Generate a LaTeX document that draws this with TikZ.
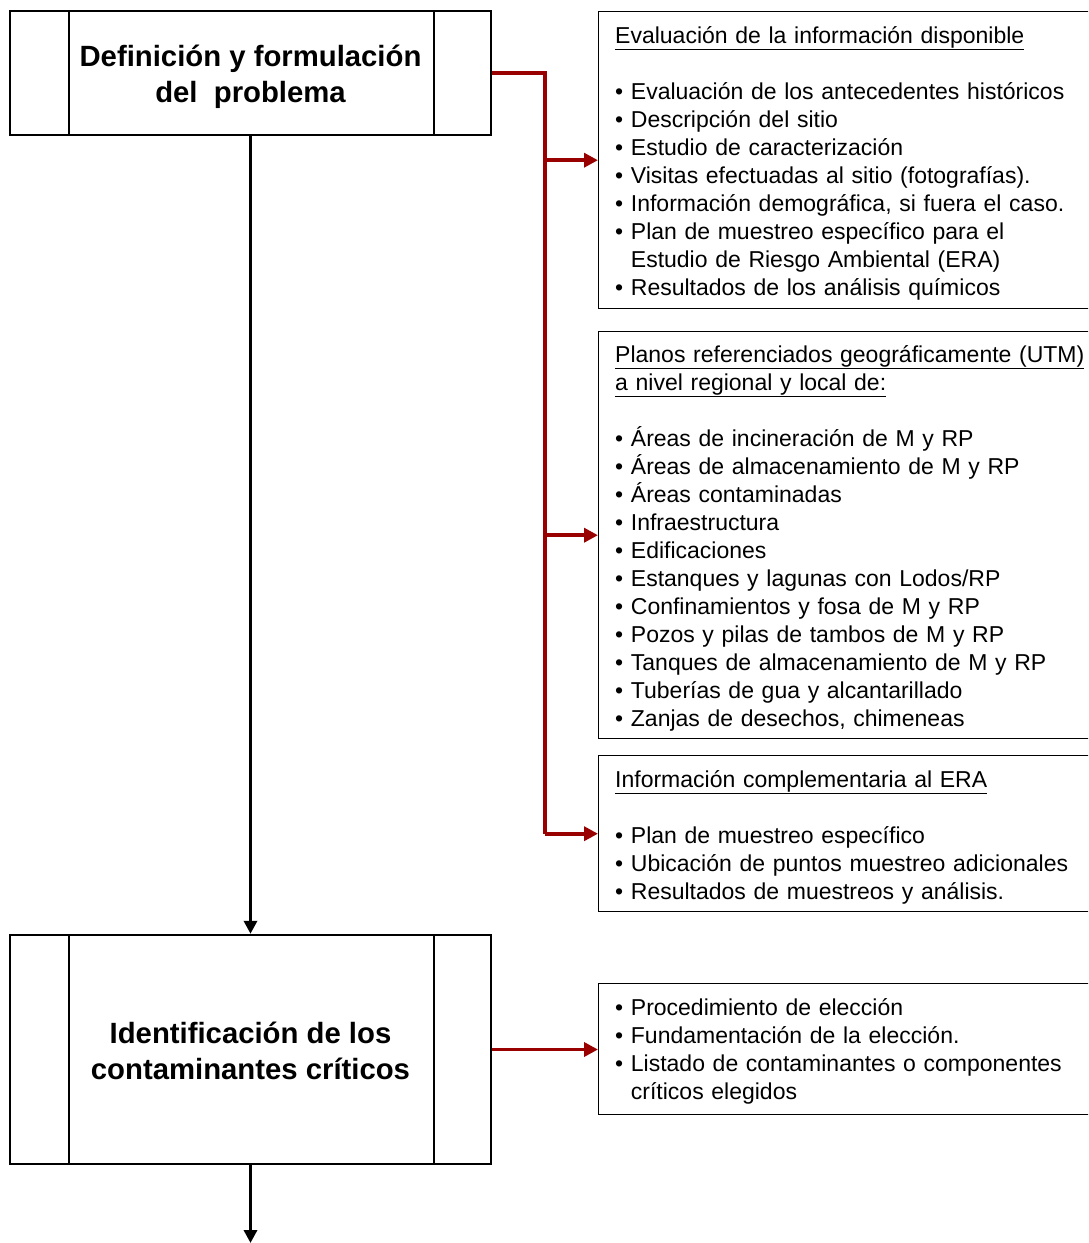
\documentclass[tikz,border=0pt]{standalone}
\usepackage{fontspec}
\setmainfont{Liberation Sans}
\usetikzlibrary{arrows.meta}
\definecolor{linkred}{RGB}{153,0,0}
\begin{document}
\begin{tikzpicture}[x=1pt,y=-1pt,
  mainbox/.style={draw,line width=2.4pt,minimum width=481pt,inner sep=0pt},
  maintext/.style={align=center,font=\fontsize{29.3}{36}\selectfont\bfseries,inner sep=0pt},
  sideline/.style={line width=2.4pt},
  infobox/.style={draw,line width=1.4pt,anchor=north west,minimum width=520pt,inner sep=0pt},
  infotext/.style={anchor=base west,text width=500pt,align=left,inner sep=0pt,
    font=\fontsize{23}{28}\selectfont},
  redline/.style={draw=linkred,line width=3.8pt},
  redarrow/.style={redline,-{Triangle[length=14pt,width=14pt]}},
  flow/.style={draw,line width=3.4pt,-{Triangle[length=13pt,width=13pt]}}
]
\useasboundingbox (0,0) rectangle (1088,1243);
\clip (0,0) rectangle (1088,1243);

% main process boxes
\node[mainbox,minimum height=124pt] (b1) at (250.5,73) {};
\node[maintext] (b1t) at (250.5,77) {Definición y formulación\\del\ \ problema};
\draw[sideline] ([xshift=60pt]b1.north west) -- ([xshift=60pt]b1.south west);
\draw[sideline] ([xshift=-58pt]b1.north east) -- ([xshift=-58pt]b1.south east);

\node[mainbox,minimum height=229pt] (b2) at (250.5,1049.5) {};
\node[maintext] (b2t) at (250.5,1050.5) {Identificación de los\\contaminantes críticos};
\draw[sideline] ([xshift=60pt]b2.north west) -- ([xshift=60pt]b2.south west);
\draw[sideline] ([xshift=-58pt]b2.north east) -- ([xshift=-58pt]b2.south east);

% information boxes
\node[infobox,minimum height=297pt] (A) at (598,11) {};
\node[infobox,minimum height=407pt] (B) at (598,331) {};
\node[infobox,minimum height=156pt] (C) at (598,755) {};
\node[infobox,minimum height=131pt] (D) at (598,983) {};

\node[infotext] (At) at (615,43) {\underline{Evaluación de la información disponible}\\[28pt]
• Evaluación de los antecedentes históricos\\
• Descripción del sitio\\
• Estudio de caracterización\\
• Visitas efectuadas al sitio (fotografías).\\
• Información demográfica, si fuera el caso.\\
• Plan de muestreo específico para el\\
\phantom{• }Estudio de Riesgo Ambiental (ERA)\\
• Resultados de los análisis químicos};

\node[infotext] (Bt) at (615,362) {\underline{Planos referenciados geográficamente (UTM)}\\
\underline{a nivel regional y local de:}\\[28pt]
• Áreas de incineración de M y RP\\
• Áreas de almacenamiento de M y RP\\
• Áreas contaminadas\\
• Infraestructura\\
• Edificaciones\\
• Estanques y lagunas con Lodos/RP\\
• Confinamientos y fosa de M y RP\\
• Pozos y pilas de tambos de M y RP\\
• Tanques de almacenamiento de M y RP\\
• Tuberías de gua y alcantarillado\\
• Zanjas de desechos, chimeneas};

\node[infotext] (Ct) at (615,787) {\underline{Información complementaria al ERA}\\[28pt]
• Plan de muestreo específico\\
• Ubicación de puntos muestreo adicionales\\
• Resultados de muestreos y análisis.};

\node[infotext] (Dt) at (615,1015) {• Procedimiento de elección\\
• Fundamentación de la elección.\\
• Listado de contaminantes o componentes\\
\phantom{• }críticos elegidos};

% connectors
\coordinate (jx) at (545,0);
\draw[redline] (b1.east) -| (jx |- C.west);
\draw[redarrow] (jx |- A.west) -- (A.west);
\draw[redarrow] (jx |- B.west) -- (B.west);
\draw[redarrow] (jx |- C.west) -- (C.west);
\draw[redarrow] (b2.east) -- (b2.east -| D.west);

\draw[flow] (b1.south) -- (b2.north);
\coordinate (out) at (250.5,1243);
\draw[flow] (b2.south) -- (out);
\end{tikzpicture}
\end{document}
